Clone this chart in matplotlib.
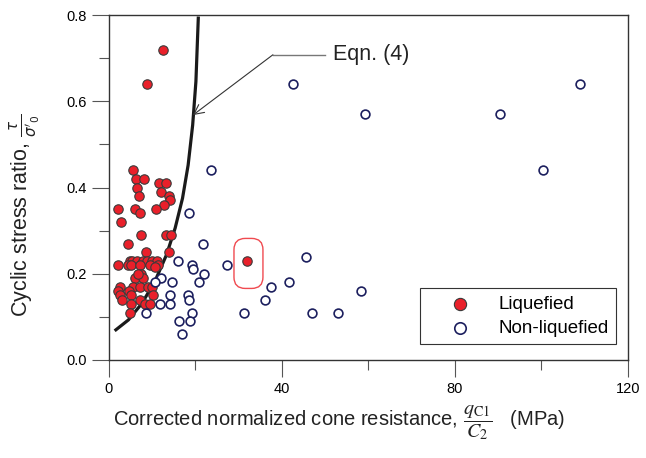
import numpy as np
import matplotlib.pyplot as plt
from matplotlib.patches import FancyBboxPatch
from matplotlib.ticker import MultipleLocator

plt.rcParams['font.family'] = ['Liberation Sans', 'DejaVu Sans']

# liquefied cases (qc1/C2 in MPa, cyclic stress ratio)
liq_x = [12.6, 8.7, 5.6, 6.2, 8.1, 6.5, 7.0, 11.6, 13.1, 12.1, 13.9, 14.1, 12.7,
         10.9, 6.1, 7.1, 2.2, 2.8, 7.3, 13.1, 14.3, 4.4, 8.6, 13.9, 2.0,
         4.9, 5.4, 6.4, 7.9, 8.7, 9.9, 11.0,
         4.5, 5.2, 7.2, 9.5, 11.4, 10.6,
         7.3, 6.0, 7.9, 6.7, 5.6, 7.2, 9.1, 9.9, 2.5, 2.2, 2.5, 2.9,
         4.7, 5.2, 7.2, 8.3, 5.2, 4.9, 10.2, 9.5, 32.0]
liq_y = [0.72, 0.64, 0.44, 0.42, 0.42, 0.40, 0.38, 0.41, 0.41, 0.39, 0.38, 0.37, 0.36,
         0.35, 0.35, 0.34, 0.35, 0.32, 0.29, 0.29, 0.29, 0.27, 0.25, 0.25, 0.22,
         0.23, 0.23, 0.23, 0.23, 0.23, 0.23, 0.23,
         0.22, 0.22, 0.22, 0.22, 0.22, 0.215,
         0.20, 0.19, 0.19, 0.20, 0.17, 0.17, 0.17, 0.17, 0.17, 0.16, 0.15, 0.14,
         0.16, 0.15, 0.14, 0.13, 0.13, 0.11, 0.15, 0.13, 0.23]

# non-liquefied cases
non_x = [23.7, 18.6, 21.7, 16.0, 19.3, 19.5, 22.0, 20.8, 14.5, 12.1, 10.6,
         14.1, 14.1, 18.3, 18.6, 11.9, 19.3, 16.3, 18.7, 16.9, 8.6,
         27.4, 31.3, 37.4, 36.1, 41.7, 45.6, 47.0, 53.0, 58.2,
         42.6, 59.2, 90.4, 108.9, 100.4]
non_y = [0.44, 0.34, 0.27, 0.23, 0.22, 0.21, 0.20, 0.18, 0.18, 0.19, 0.18,
         0.15, 0.13, 0.15, 0.14, 0.13, 0.11, 0.09, 0.09, 0.06, 0.11,
         0.22, 0.11, 0.17, 0.14, 0.18, 0.24, 0.11, 0.11, 0.16,
         0.64, 0.57, 0.57, 0.64, 0.44]

# Eqn. (4) boundary
eq_x = [1.6, 4.5, 7.6, 10.6, 13.3, 15.3, 17.0, 18.3, 19.35, 20.1, 20.65]
eq_y = [0.07, 0.093, 0.131, 0.182, 0.244, 0.306, 0.375, 0.452, 0.545, 0.646, 0.793]

fig = plt.figure(figsize=(6.46, 4.58), dpi=100)
ax = fig.add_axes([0.1687, 0.214, 0.8034, 0.753])

ax.plot(eq_x, eq_y, color='#1a1a1a', lw=2.3, zorder=2)
ax.scatter(liq_x, liq_y, s=46, c='#e9202a', edgecolors='#3a3a3a', linewidths=0.8,
           zorder=3, label='Liquefied')
ax.scatter(non_x, non_y, s=40, facecolors='white', edgecolors='#1c1f5e',
           linewidths=1.2, zorder=3, label='Non-liquefied')

ax.set_xlim(0, 120)
ax.set_ylim(0, 0.8)

# rounded box around the highlighted case
ax_w = 6.46 * 100 * 0.8034
ax_h = 4.58 * 100 * 0.753
asp = (0.8 / ax_h) / (120 / ax_w)
box = FancyBboxPatch((28.9, 0.166), 6.7, 0.116,
                     boxstyle='round,pad=0,rounding_size=2.6',
                     mutation_aspect=asp, fc='none', ec='#f04a50', lw=1.0, zorder=4)
ax.add_patch(box)

# label for the boundary curve
ax.plot([37.9, 49.9], [0.708, 0.708], color='#777777', lw=1.0)
ax.annotate('', xy=(19.4, 0.568), xytext=(37.9, 0.708),
            arrowprops=dict(arrowstyle='->,head_length=0.7,head_width=0.35',
                            color='#333333', lw=0.8, shrinkA=0, shrinkB=0))
ax.text(51.8, 0.708, 'Eqn. (4)', fontsize=15.5, va='center', ha='left', color='#222222')

ax.xaxis.set_major_locator(MultipleLocator(40))
ax.xaxis.set_minor_locator(MultipleLocator(20))
ax.yaxis.set_major_locator(MultipleLocator(0.2))
ax.yaxis.set_minor_locator(MultipleLocator(0.1))
ax.yaxis.set_major_formatter(plt.FormatStrFormatter('%.1f'))
ax.tick_params(which='major', direction='out', length=12, width=0.8,
               labelsize=10.5, color='#555555', pad=4)
ax.tick_params(which='minor', direction='out', length=7, width=0.8, color='#555555')
for sp in ax.spines.values():
    sp.set_color('#333333')
    sp.set_linewidth(1.0)

ax.set_xlabel(r'Corrected normalized cone resistance, $\dfrac{q_{\mathrm{C1}}}{C_2}$   (MPa)',
              fontsize=14.5, math_fontfamily='stix', color='#222222')
ax.xaxis.set_label_coords(0.444, -0.125)
ax.set_ylabel(r"Cyclic stress ratio, $\frac{\tau}{\sigma'_0}$", fontsize=15.5,
              color='#222222')
ax.yaxis.set_label_coords(-0.127, 0.42)

leg = ax.legend(loc='lower right', bbox_to_anchor=(0.977, 0.046), fontsize=13.5,
                fancybox=False, edgecolor='#333333', framealpha=1,
                markerscale=1.3, handlelength=3.4, handletextpad=0.35,
                borderpad=0.4, labelspacing=0.35, borderaxespad=0)
leg.get_frame().set_linewidth(0.8)

plt.savefig('out.png', dpi=100)
